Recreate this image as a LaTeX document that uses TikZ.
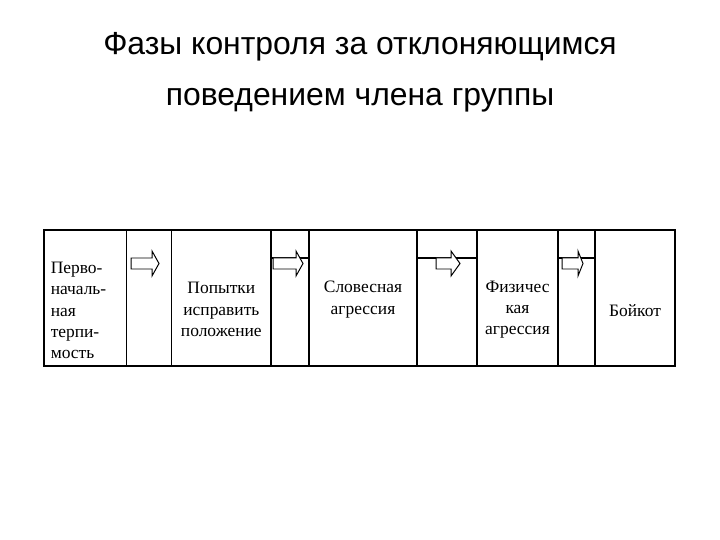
\documentclass[tikz,border=0pt]{standalone}
\usepackage{fontspec}
\setmainfont{Liberation Serif}
\newfontfamily\titlefont{Liberation Sans}
\usetikzlibrary{positioning}

\begin{document}

\begin{tikzpicture}[x = 1bp, y = -1bp,
	cell/.style = {draw, line width = 1.3pt, inner sep = 0pt, outer sep = 0pt, minimum height = 136bp},
	celltext/.style = {font = \fontsize{17.5}{21.5}\selectfont, align = center, inner sep = 0pt},
	titletext/.style = {font = \titlefont\fontsize{32}{32}\selectfont, inner sep = 0pt, anchor = base},
	arrowbox/.style = {draw, fill = white, line width = 1pt, line join = miter}]

	% Frame
	
	\useasboundingbox (0, 0) rectangle (720, 540);
	
	% Title
	
	\node [titletext] (title1) at (360, 55) {Фазы контроля за отклоняющимся};
	\node [titletext] (title2) at (360, 106) {поведением члена группы};
	
	% Table cells
	
	\node [cell, anchor = north west, minimum width = 82.7bp] (perv) at (44, 230) {};
	\node [cell, right = 0pt of perv, minimum width = 45bp] (ar1) {};
	\node [cell, right = 0pt of ar1, minimum width = 99.3bp] (popyt) {};
	\node [cell, right = 0pt of popyt, minimum width = 38bp] (ar2) {};
	\node [cell, right = 0pt of ar2, minimum width = 108bp] (slov) {};
	\node [cell, right = 0pt of slov, minimum width = 60bp] (ar3) {};
	\node [cell, right = 0pt of ar3, minimum width = 81bp] (fiz) {};
	\node [cell, right = 0pt of fiz, minimum width = 37bp] (ar4) {};
	\node [cell, right = 0pt of ar4, minimum width = 80bp] (boyk) {};
	
	% Cell texts
	
	\node [celltext, align = left] (pervtext) at (78.5, 310.5) {Перво-\\началь-\\ная\\терпи-\\мость};
	\node [celltext] (popyttext) at (popyt |- 0, 309.7) {Попытки\\исправить\\положение};
	\node [celltext] (slovtext) at (slov |- 0, 299.5) {Словесная\\агрессия};
	\node [celltext] (fiztext) at (fiz |- 0, 309.7) {Физичес\\кая\\агрессия};
	\node [celltext] (boyktext) at (boyk |- 0, 311) {Бойкот};
	
	% Lines under the arrow tops
	
	\coordinate (lev) at (0, 258);
	
	\foreach \c in {ar2, ar3, ar4}
		\draw [line width = 1.3pt] (\c.west |- lev) -- (\c.east |- lev);
	
	% Block arrows
	
	\foreach \xa/\xb/\xc in {131/152/159, 273/296/303, 436/451/460, 562/578/583}
		\draw [arrowbox] (\xa, 258) -- (\xb, 258) -- (\xb, 251) -- (\xc, 263.5)
			-- (\xb, 276) -- (\xb, 269) -- (\xa, 269) -- cycle;
	
\end{tikzpicture}

\end{document}
